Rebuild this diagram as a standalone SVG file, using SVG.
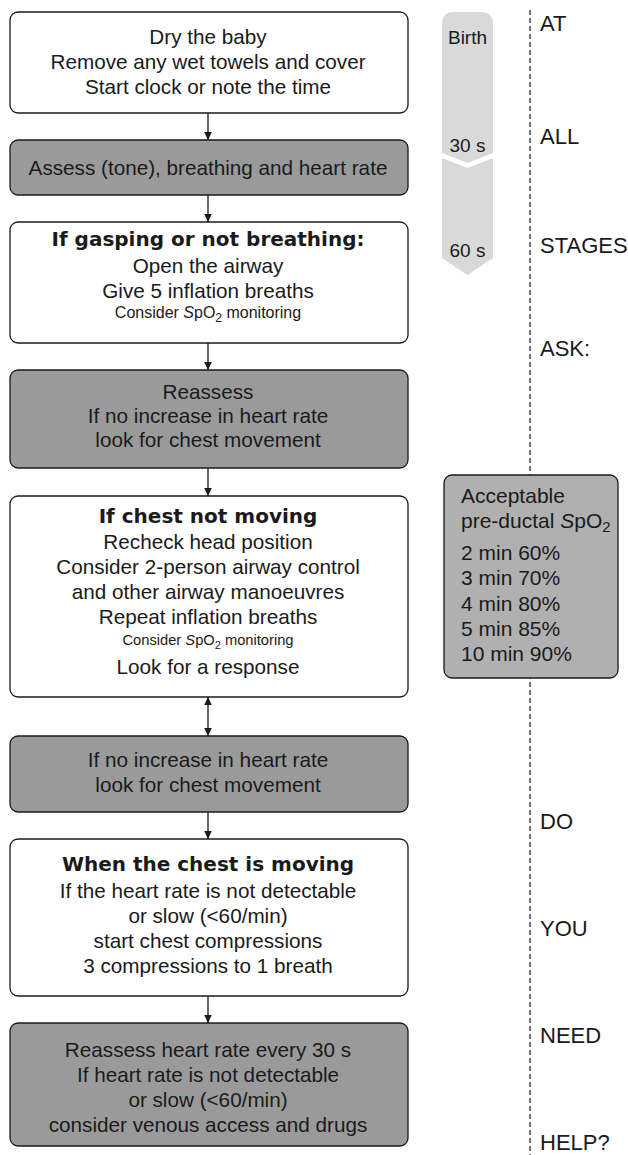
<svg xmlns="http://www.w3.org/2000/svg" width="628" height="1155" viewBox="0 0 628 1155">
<style>
.box{stroke:#1a1a1a;stroke-width:1.3}
.w{fill:#ffffff}
.g{fill:#9a9a9a}
.t{font-family:"Liberation Sans",Arial,sans-serif;font-size:20.7px;fill:#1a1a1a;text-anchor:middle}
.b{font-family:"DejaVu Sans","Liberation Sans",sans-serif;font-weight:bold;font-size:20px}
.s3{font-size:16px}
.s5{font-size:14.7px}
.l{font-family:"Liberation Sans",Arial,sans-serif;font-size:22px;fill:#1a1a1a}
.sp{font-family:"Liberation Sans",Arial,sans-serif;font-size:21px;fill:#1a1a1a}
.tl{font-family:"Liberation Sans",Arial,sans-serif;font-size:19px;fill:#1a1a1a;text-anchor:middle}
.c{stroke:#1a1a1a;stroke-width:1.3;fill:none}
</style>
<defs>
<marker id="ah" viewBox="0 0 8 10" refX="8" refY="5" markerWidth="8" markerHeight="10" markerUnits="userSpaceOnUse" orient="auto-start-reverse">
<path d="M0,1.2 L8,5 L0,8.8 Z" fill="#1a1a1a"/>
</marker>
</defs>
<g id="timeline">
<path d="M442,24 Q442,12 454,12 L481,12 Q493,12 493,24 L493,153 L467.5,163 L442,153 Z" fill="#d9d9d9"/>
<path d="M442,158 L467.5,168 L493,158 L493,258 L467.5,275 L442,258 Z" fill="#d9d9d9"/>
<text class="tl" x="467.5" y="44">Birth</text>
<text class="tl" x="467.5" y="152">30 s</text>
<text class="tl" x="467.5" y="257">60 s</text>
</g>
<g id="divider">
<line x1="530" y1="10" x2="530" y2="1155" stroke="#555" stroke-width="1.6" stroke-dasharray="5,3"/>
<text class="l" x="540" y="31">AT</text>
<text class="l" x="540" y="144">ALL</text>
<text class="l" x="540" y="253">STAGES</text>
<text class="l" x="540" y="356">ASK:</text>
<text class="l" x="540" y="829">DO</text>
<text class="l" x="540" y="936">YOU</text>
<text class="l" x="540" y="1043">NEED</text>
<text class="l" x="540" y="1150">HELP?</text>
</g>
<g id="spo2">
<rect class="box" x="444" y="475" width="174" height="203" rx="8" fill="#b0b0b0"/>
<text class="sp" x="461" y="503">Acceptable</text>
<text class="sp" x="461" y="528">pre-ductal <tspan font-style="italic">S</tspan>pO<tspan font-size="15" dy="4">2</tspan></text>
<text class="sp" x="461" y="560">2 min 60%</text>
<text class="sp" x="461" y="585">3 min 70%</text>
<text class="sp" x="461" y="611">4 min 80%</text>
<text class="sp" x="461" y="636">5 min 85%</text>
<text class="sp" x="461" y="661">10 min 90%</text>
</g>
<g id="connectors">
<line class="c" x1="208" y1="113" x2="208" y2="140" marker-end="url(#ah)"/>
<line class="c" x1="208" y1="195" x2="208" y2="222" marker-end="url(#ah)"/>
<line class="c" x1="208" y1="343" x2="208" y2="370" marker-end="url(#ah)"/>
<line class="c" x1="208" y1="468" x2="208" y2="496" marker-end="url(#ah)"/>
<line class="c" x1="208" y1="697" x2="208" y2="736" marker-start="url(#ah)" marker-end="url(#ah)"/>
<line class="c" x1="208" y1="812" x2="208" y2="839" marker-end="url(#ah)"/>
<line class="c" x1="208" y1="996" x2="208" y2="1023" marker-end="url(#ah)"/>
</g>
<g id="n1">
<rect class="box w" x="10" y="12" width="398" height="101" rx="8"/>
<text class="t" x="208" y="44">Dry the baby</text>
<text class="t" x="208" y="69">Remove any wet towels and cover</text>
<text class="t" x="208" y="94">Start clock or note the time</text>
</g>
<g id="n2">
<rect class="box g" x="10" y="140" width="398" height="55" rx="8"/>
<text class="t" x="208" y="175">Assess (tone), breathing and heart rate</text>
</g>
<g id="n3">
<rect class="box w" x="10" y="222" width="398" height="121" rx="8"/>
<text class="t b" x="208" y="246">If gasping or not breathing:</text>
<text class="t" x="208" y="273">Open the airway</text>
<text class="t" x="208" y="298">Give 5 inflation breaths</text>
<text class="t s3" x="208" y="318">Consider <tspan font-style="italic">S</tspan>pO<tspan font-size="12" dy="4">2</tspan><tspan dy="-4"> monitoring</tspan></text>
</g>
<g id="n4">
<rect class="box g" x="10" y="370" width="398" height="98" rx="8"/>
<text class="t" x="208" y="399">Reassess</text>
<text class="t" x="208" y="423">If no increase in heart rate</text>
<text class="t" x="208" y="447">look for chest movement</text>
</g>
<g id="n5">
<rect class="box w" x="10" y="496" width="398" height="201" rx="8"/>
<text class="t b" x="208" y="523">If chest not moving</text>
<text class="t" x="208" y="549">Recheck head position</text>
<text class="t" x="208" y="574">Consider 2-person airway control</text>
<text class="t" x="208" y="599">and other airway manoeuvres</text>
<text class="t" x="208" y="624">Repeat inflation breaths</text>
<text class="t s5" x="208" y="645">Consider <tspan font-style="italic">S</tspan>pO<tspan font-size="11" dy="3.5">2</tspan><tspan dy="-3.5"> monitoring</tspan></text>
<text class="t" x="208" y="674">Look for a response</text>
</g>
<g id="n6">
<rect class="box g" x="10" y="736" width="398" height="76" rx="8"/>
<text class="t" x="208" y="767">If no increase in heart rate</text>
<text class="t" x="208" y="792">look for chest movement</text>
</g>
<g id="n7">
<rect class="box w" x="10" y="839" width="398" height="157" rx="8"/>
<text class="t b" x="208" y="871">When the chest is moving</text>
<text class="t" x="208" y="898">If the heart rate is not detectable</text>
<text class="t" x="208" y="923">or slow (&lt;60/min)</text>
<text class="t" x="208" y="948">start chest compressions</text>
<text class="t" x="208" y="973">3 compressions to 1 breath</text>
</g>
<g id="n8">
<rect class="box g" x="10" y="1023" width="398" height="123" rx="8"/>
<text class="t" x="208" y="1057">Reassess heart rate every 30 s</text>
<text class="t" x="208" y="1082">If heart rate is not detectable</text>
<text class="t" x="208" y="1107">or slow (&lt;60/min)</text>
<text class="t" x="208" y="1132">consider venous access and drugs</text>
</g>
</svg>
